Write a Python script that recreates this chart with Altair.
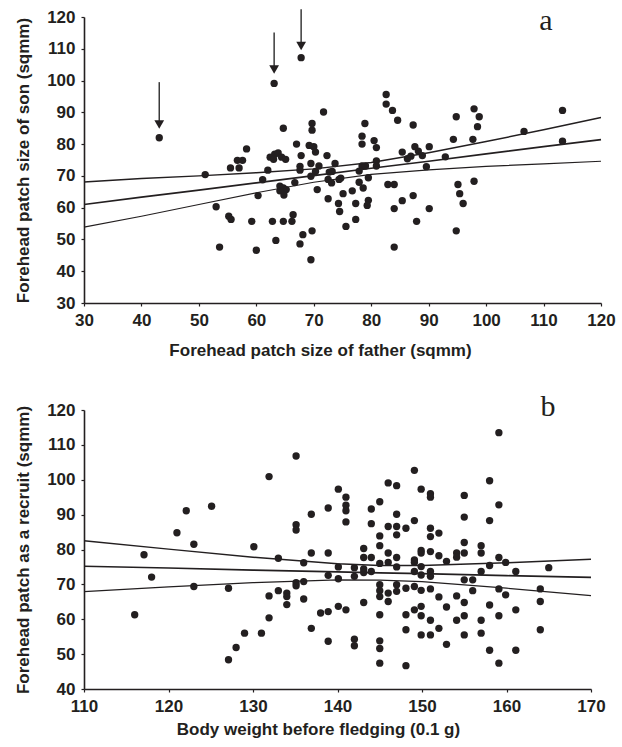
import altair as alt
import pandas as pd

# ---------------- Panel a data ----------------
father_a = [43.1, 63.1, 67.8, 71.7, 64.7, 69.7, 69.7, 78.9, 78.4, 78.4, 80.5, 80.9, 67.0, 58.3,
            56.7, 57.6, 55.5, 57.0, 51.1, 62.4, 63.2, 63.8, 64.4, 65.1, 63.0, 62.0, 61.1, 60.3,
            53.0, 55.2, 55.6, 53.6, 59.2, 60.0, 62.8, 64.7, 66.2, 66.4, 63.4, 68.1, 67.6, 69.7,
            69.5, 64.1, 64.7, 65.2, 64.8, 64.1, 66.7, 67.6, 67.6, 67.8, 69.2, 70.0, 70.3, 69.5,
            70.9, 70.3, 69.5, 72.3, 73.7, 72.7, 73.2, 72.5, 73.1, 70.6, 72.5, 74.7, 74.4, 75.1,
            74.3, 74.5, 76.7, 77.3, 75.6, 77.3, 77.9, 78.4, 79.0, 79.5, 77.9, 78.6, 79.5, 79.3,
            80.9, 80.9, 82.6, 82.6, 83.7, 84.6, 87.3, 94.8, 97.9, 98.8, 98.5, 113.3, 106.6, 113.3,
            94.3, 97.7, 85.4, 87.6, 88.2, 88.9, 86.9, 86.3, 90.1, 89.6, 92.9, 82.9, 84.0, 87.3,
            85.4, 84.0, 90.1, 87.9, 84.0, 95.1, 95.4, 96.0, 97.9, 94.8]
son_a = [82.0, 99.1, 107.2, 90.1, 85.0, 86.5, 84.4, 86.5, 82.5, 80.0, 81.1, 78.9, 80.0, 78.5,
         74.9, 74.9, 72.5, 72.5, 70.4, 75.9, 76.8, 77.2, 75.9, 75.2, 75.2, 71.8, 68.8, 63.8,
         60.3, 57.3, 56.3, 47.6, 55.7, 46.6, 55.7, 55.7, 55.7, 57.8, 49.7, 51.5, 48.6, 52.7,
         43.6, 66.8, 66.2, 65.7, 64.0, 65.3, 67.9, 73.0, 71.8, 76.4, 79.6, 79.2, 77.5, 73.9,
         73.1, 71.4, 69.9, 76.4, 73.9, 71.2, 71.4, 68.9, 67.8, 65.7, 62.8, 69.3, 68.9, 64.4,
         61.3, 58.8, 65.3, 61.3, 54.1, 56.3, 71.5, 73.1, 73.1, 69.4, 68.0, 66.2, 62.3, 60.7,
         74.7, 73.1, 95.6, 92.6, 90.6, 87.5, 86.0, 88.6, 91.1, 88.6, 85.5, 90.6, 84.0, 80.9,
         81.5, 81.5, 77.5, 79.2, 77.8, 76.4, 76.2, 75.4, 79.2, 72.9, 76.0, 67.3, 67.3, 63.8,
         62.2, 59.7, 59.7, 55.7, 47.6, 67.3, 64.4, 61.3, 68.3, 52.7]

# regression line and confidence band of panel a
line_a_x = [30, 40, 50, 60, 70, 80, 90, 100, 110, 120]
line_a_mid = [61.0, 63.3, 65.5, 67.8, 70.1, 72.4, 74.6, 76.9, 79.2, 81.4]
line_a_up = [68.1, 69.2, 70.0, 71.0, 72.2, 74.2, 77.3, 80.8, 84.5, 88.4]
line_a_lo = [53.9, 57.3, 61.0, 64.7, 68.0, 70.5, 71.9, 73.0, 73.8, 74.6]

# arrows marking the three outliers
arrow_x = [43.1, 63.1, 67.8]
arrow_top = [99.5, 115.1, 122.4]
arrow_tip = [86.2, 103.5, 110.9]

# ---------------- Panel b data ----------------
weight_b = [116.0, 117.1, 118.0, 121.0, 122.1, 123.0, 123.0, 125.1, 127.1, 127.1, 128.0, 129.0,
            130.1, 131.0, 131.9, 131.9, 131.9, 133.0, 133.0, 134.0, 134.0, 134.0, 135.1, 135.1,
            135.1, 135.1, 135.1, 136.0, 136.0, 136.0, 136.9, 136.9, 136.9, 138.0, 138.9, 138.9,
            138.9, 138.9, 138.9, 140.1, 140.1, 140.1, 140.1, 159.1, 149.1, 146.0, 147.0, 158.0,
            149.9, 151.0, 151.0, 155.0, 141.0, 141.0, 141.0, 145.0, 144.0, 159.1, 147.0, 141.0,
            144.0, 146.0, 147.0, 147.0, 148.1, 149.1, 155.0, 158.0, 151.0, 151.0, 152.0, 145.0,
            145.0, 143.1, 143.1, 144.0, 146.0, 147.0, 149.1, 149.1, 149.9, 149.9, 151.0, 152.0,
            152.9, 154.1, 154.1, 155.0, 155.0, 157.0, 157.0, 159.1, 159.9, 142.0, 142.0, 143.1,
            143.1, 144.0, 145.0, 146.0, 147.0, 149.1, 149.9, 149.9, 151.0, 151.0, 157.0, 158.0,
            161.1, 165.0, 155.0, 156.0, 145.0, 145.0, 145.0, 146.0, 146.0, 147.0, 147.0, 148.1,
            149.1, 149.9, 151.0, 152.0, 154.1, 156.0, 159.1, 159.9, 164.0, 164.0, 141.0, 143.1,
            145.0, 148.1, 149.1, 149.9, 149.9, 151.0, 152.9, 154.1, 155.0, 155.0, 157.0, 158.0,
            159.1, 161.1, 148.1, 149.9, 151.0, 152.0, 155.0, 157.0, 164.0, 142.0, 142.0, 145.0,
            145.0, 152.9, 158.0, 161.1, 145.0, 148.1, 159.1]
recruit_b = [61.3, 78.5, 72.1, 84.8, 91.1, 81.5, 69.4, 92.4, 68.9, 48.4, 51.9, 56.0,
             80.8, 56.0, 100.9, 66.7, 60.4, 77.5, 68.2, 67.5, 66.5, 64.2, 106.8, 87.1,
             85.6, 70.5, 69.6, 76.2, 70.8, 65.8, 90.1, 79.0, 57.4, 61.8, 91.9, 79.0,
             72.6, 62.2, 53.7, 97.3, 75.0, 71.6, 63.7, 113.5, 102.7, 99.1, 98.3, 99.7,
             97.3, 96.0, 95.0, 95.5, 95.0, 92.7, 91.1, 93.7, 91.6, 92.8, 90.1, 87.9,
             87.4, 86.6, 86.6, 84.2, 86.1, 88.3, 89.3, 88.3, 86.1, 83.7, 84.7, 83.9,
             81.1, 80.3, 77.7, 77.7, 79.0, 77.7, 77.0, 76.3, 79.7, 79.0, 79.4, 78.2,
             76.6, 79.0, 77.8, 79.0, 82.0, 81.1, 79.0, 77.7, 76.3, 74.8, 72.3, 74.4,
             73.4, 73.7, 76.0, 76.3, 75.0, 73.7, 75.1, 72.7, 73.7, 72.3, 73.7, 75.4,
             73.7, 74.8, 71.3, 71.3, 69.9, 68.2, 66.5, 67.5, 65.1, 69.9, 68.0, 68.9,
             69.4, 68.3, 68.7, 66.4, 66.7, 68.2, 68.7, 67.0, 68.7, 65.1, 62.7, 64.8,
             61.3, 61.3, 62.7, 63.7, 61.0, 59.7, 63.5, 59.7, 64.8, 61.0, 59.7, 64.1,
             61.0, 62.7, 57.0, 55.5, 55.5, 57.4, 55.5, 56.0, 57.0, 54.3, 52.4, 53.8,
             51.6, 52.8, 51.1, 51.1, 47.4, 46.7, 47.4]

line_b_x = [110, 120, 130, 140, 145, 150, 160, 170]
line_b_mid = [75.2, 74.7, 74.1, 73.6, 73.3, 73.1, 72.5, 72.0]
line_b_up = [82.5, 80.1, 77.8, 75.9, 75.4, 75.4, 76.2, 77.2]
line_b_lo = [67.9, 69.3, 70.5, 71.3, 71.2, 70.8, 68.9, 66.8]

label_a = ["a"]
label_a_pos = [110.4, 118.8]
label_b = ["b"]
label_b_pos = [164.9, 120.8]

INK = "#231f20"


def lines_df(xs, mid, up, lo):
    rows = []
    for name, ys in (("mid", mid), ("up", up), ("lo", lo)):
        for x, y in zip(xs, ys):
            rows.append({"x": x, "y": y, "s": name})
    return pd.DataFrame(rows)


def panel(xs, ys, lx, lmid, lup, llo, xdom, ydom, xticks, yticks, xtitle, ytitle,
          lab, labpos, title_x, title_pad):
    xsc = alt.Scale(domain=xdom, nice=False, zero=False)
    ysc = alt.Scale(domain=ydom, nice=False, zero=False)
    xax = alt.Axis(values=xticks, title=xtitle, titleX=title_x, titlePadding=title_pad,
                   labelOverlap=False)
    yax = alt.Axis(values=yticks, title=ytitle, labelOverlap=False)
    pts = alt.Chart(pd.DataFrame({"x": xs, "y": ys})).mark_circle(
        size=54, color=INK, opacity=1
    ).encode(x=alt.X("x:Q", scale=xsc, axis=xax), y=alt.Y("y:Q", scale=ysc, axis=yax))
    ldf = lines_df(lx, lmid, lup, llo)
    lines = alt.Chart(ldf).mark_line(color=INK).encode(
        x=alt.X("x:Q", scale=xsc, axis=xax),
        y=alt.Y("y:Q", scale=ysc, axis=yax),
        detail="s:N",
        strokeWidth=alt.StrokeWidth("s:N", scale=alt.Scale(domain=["mid", "up", "lo"],
                                                           range=[1.7, 1.2, 1.2]), legend=None),
    )
    txt = alt.Chart(pd.DataFrame({"x": [labpos[0]], "y": [labpos[1]], "t": lab})).mark_text(
        font="Liberation Serif", fontSize=30, color=INK, align="center", baseline="middle"
    ).encode(x=alt.X("x:Q", scale=xsc, axis=xax), y=alt.Y("y:Q", scale=ysc, axis=yax),
             text="t:N")
    return [pts, lines, txt], xsc, ysc, xax, yax


layers_a, xsa, ysa, xaa, yaa = panel(
    father_a, son_a, line_a_x, line_a_mid, line_a_up, line_a_lo,
    [30, 120], [30, 120], list(range(30, 121, 10)), list(range(30, 121, 10)),
    "Forehead patch size of father (sqmm)", "Forehead patch size of son (sqmm)",
    label_a, label_a_pos, 236, 14)
arr_df = pd.DataFrame({"x": arrow_x, "y": arrow_top, "y2": arrow_tip})
shafts = alt.Chart(arr_df).mark_rule(color="#3a3a3a", strokeWidth=1.5).encode(
    x=alt.X("x:Q", scale=xsa, axis=xaa), y=alt.Y("y:Q", scale=ysa, axis=yaa), y2="y2:Q")
heads = alt.Chart(arr_df).mark_point(shape="triangle-down", filled=True, size=95,
                                     color=INK, opacity=1).encode(
    x=alt.X("x:Q", scale=xsa, axis=xaa), y=alt.Y("y2:Q", scale=ysa, axis=yaa))
chart_a = alt.layer(*layers_a, shafts, heads).properties(width=517, height=286)

layers_b, xsb, ysb, xab, yab = panel(
    weight_b, recruit_b, line_b_x, line_b_mid, line_b_up, line_b_lo,
    [110, 170], [40, 120], list(range(110, 171, 10)), list(range(40, 121, 10)),
    "Body weight before fledging (0.1 g)", "Forehead patch as a recruit (sqmm)",
    label_b, label_b_pos, 234, 7)
chart_b = alt.layer(*layers_b).properties(width=507, height=279)

chart = alt.vconcat(chart_a, chart_b, spacing=34).properties(
    padding={"left": 14, "top": 5, "right": 5, "bottom": 5}
).configure_view(stroke=None).configure_axis(
    grid=False, labelOverlap=False,
    domainColor=INK, domainWidth=1.6,
    tickColor=INK, tickSize=3, tickWidth=1.2,
    labelFont="Liberation Sans", labelFontWeight="bold", labelFontSize=17, labelColor=INK,
    labelPadding=6,
    titleFont="Liberation Sans", titleFontWeight="bold", titleFontSize=17, titleColor=INK,
).configure_axisX(labelFlush=False).configure_axisY(titlePadding=14, labelFlush=False)

chart.save("out.html", embed_options={"renderer": "svg", "actions": False})
